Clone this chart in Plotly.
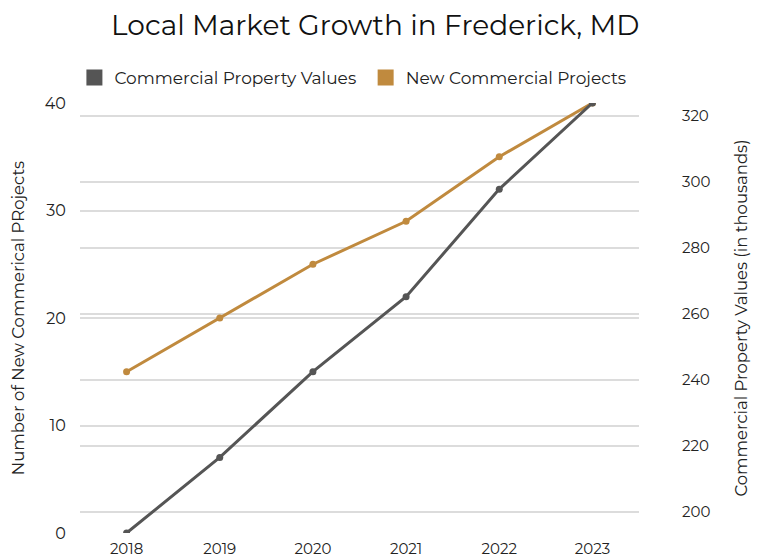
import plotly.graph_objects as go

years = ["2018", "2019", "2020", "2021", "2022", "2023"]
new_projects = [15, 20, 25, 29, 35, 40]
property_values = [193.6, 216.5, 242.5, 265.2, 297.8, 323.9]
left_ticks = [0, 10, 20, 30, 40]
right_ticks = [200, 220, 240, 260, 280, 300, 320]

GRAY = "#555555"
GOLD = "#C08A3E"
FONT = "Montserrat, Open Sans, sans-serif"

fig = go.Figure()

fig.add_trace(go.Scatter(
    x=list(range(len(years))), y=property_values, yaxis="y2",
    mode="lines+markers", line=dict(color=GRAY, width=3),
    marker=dict(color=GRAY, size=7), showlegend=False,
    name="Commercial Property Values"))
fig.add_trace(go.Scatter(
    x=list(range(len(years))), y=new_projects, yaxis="y",
    mode="lines+markers", line=dict(color=GOLD, width=3),
    marker=dict(color=GOLD, size=7), showlegend=False,
    name="New Commercial Projects"))

# legend entries with square swatches
for name, col in [("Commercial Property Values\u00a0", GRAY), ("New Commercial Projects", GOLD)]:
    fig.add_trace(go.Scatter(x=[None], y=[None], mode="markers", name=name,
                             marker=dict(symbol="square", color=col, size=18)))

fig.update_layout(
    width=751, height=549,
    paper_bgcolor="white", plot_bgcolor="white",
    font=dict(family=FONT, color="#222222", size=15),
    title=dict(text="Local Market Growth in Frederick, MD", x=0.489, xanchor="center",
               y=0.969, yanchor="middle", font=dict(size=28, color="#111111")),
    margin=dict(l=72, r=120, t=95, b=24, autoexpand=False),
    legend=dict(orientation="h", x=-0.01, xanchor="left", y=1.058, yanchor="middle",
                font=dict(size=17), itemsizing="trace", traceorder="normal",
                itemwidth=30),
    xaxis=dict(tickmode="array", tickvals=list(range(len(years))), ticktext=years,
               range=[-0.5, 5.5], showgrid=False, zeroline=False, showline=False,
               tickfont=dict(size=15), ticks="outside", ticklen=2, tickcolor="white",
               automargin=False),
    yaxis=dict(range=[0, 40], tickvals=left_ticks, showgrid=True,
               gridcolor="#dcdcdc", gridwidth=1.5, zeroline=False,
               tickfont=dict(size=16), ticks="outside", ticklen=10, tickcolor="white",
               automargin=False,
               title=dict(text="Number of New Commerical PRojects", font=dict(size=16.5), standoff=40)),
    yaxis2=dict(range=[193.6, 323.9], tickvals=right_ticks, overlaying="y", side="right",
                showgrid=True, gridcolor="#dcdcdc", gridwidth=2, zeroline=False,
                tickfont=dict(size=15), ticks="outside", ticklen=39, tickcolor="white",
                automargin=False,
                title=dict(text="Commercial Property Values (in thousands)", font=dict(size=16.5), standoff=26)),
)

fig.write_html("out.html")
